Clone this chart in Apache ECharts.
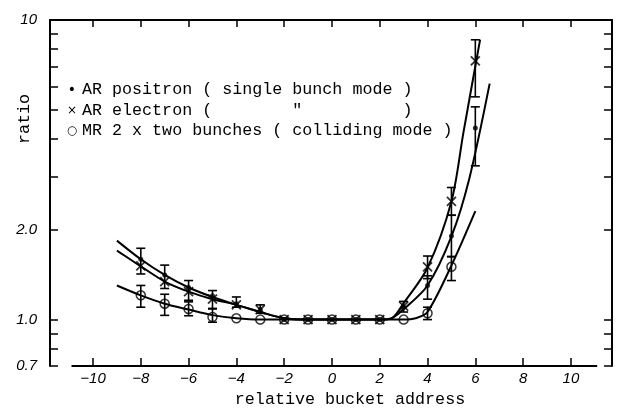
<!DOCTYPE html>
<html><head><meta charset="utf-8">
<script src="https://cdn.jsdelivr.net/npm/echarts@6/dist/echarts.min.js"></script>
<style>html,body{margin:0;padding:0;background:#fff}#c{width:622px;height:408px}</style>
</head><body><div id="c"></div>
<script>
// ---- data ----
const xTickValues = [-10, -8, -6, -4, -2, 0, 2, 4, 6, 8, 10];
const yTickValues = [0.7, 0.8, 0.9, 1, 2, 3, 4, 5, 6, 7, 8, 9, 10];
const yLabelValues = [0.7, 1, 2, 10];

const positronX = [-8, -7, -6, -5, -4, -3, -2, -1, 0, 1, 2, 3, 4, 5, 6];
const positronY = [1.59, 1.41, 1.28, 1.20, 1.13, 1.08, 1.0, 1.0, 1.0, 1.0, 1.0, 1.10, 1.30, 1.90, 4.36];
const electronX = [-8, -7, -6, -5, -4, -3, -2, -1, 0, 1, 2, 3, 4, 5, 6];
const electronY = [1.51, 1.34, 1.24, 1.17, 1.12, 1.08, 1.0, 1.0, 1.0, 1.0, 1.0, 1.11, 1.50, 2.48, 7.3];
const mrX = [-8, -7, -6, -5, -4, -3, -2, -1, 0, 1, 2, 3, 4, 5];
const mrY = [1.205, 1.13, 1.085, 1.02, 1.01, 1.0, 1.0, 1.0, 1.0, 1.0, 1.0, 1.0, 1.05, 1.50];

// error bars: x, low, high
const positronErrX = [-8, -7, -6, -5, -4, -3, 3, 4, 5, 6];
const positronErrLo = [1.42, 1.27, 1.16, 1.09, 1.10, 1.05, 1.06, 1.17, 1.62, 3.26];
const positronErrHi = [1.73, 1.52, 1.35, 1.25, 1.19, 1.12, 1.15, 1.40, 2.23, 5.13];
const electronErrX = [4, 5, 6];
const electronErrLo = [1.37, 2.23, 5.54];
const electronErrHi = [1.63, 2.76, 8.59];
const mrErrX = [-8, -7, -6, -5, 4, 5];
const mrErrLo = [1.10, 1.033, 1.03, 0.98, 1.0, 1.35];
const mrErrHi = [1.30, 1.215, 1.146, 1.085, 1.10, 1.625];

// fitted curves
const positronFitX = [-9, -8, -7, -6, -5, -4, -3, -2, -1, 0, 1, 2, 2.5, 3, 4, 5, 5.75, 6.6];
const positronFitY = [1.835, 1.59, 1.41, 1.28, 1.19, 1.12, 1.06, 1.01, 1.0, 1.0, 1.0, 1.0, 1.01, 1.083, 1.30, 1.895, 2.96, 6.13];
const electronFitX = [-9, -8, -7, -6, -5, -4, -3, -2, -1, 0, 1, 2, 2.5, 3, 4, 5, 5.5, 6.2];
const electronFitY = [1.70, 1.506, 1.34, 1.24, 1.17, 1.12, 1.06, 1.01, 1.0, 1.0, 1.0, 1.0, 1.01, 1.135, 1.49, 2.48, 4.2, 8.6];
const mrFitX = [-9, -8, -7, -6, -5, -4, -3, -2, -1, 0, 1, 2, 3, 3.5, 4, 5, 6];
const mrFitY = [1.30, 1.205, 1.13, 1.08, 1.035, 1.01, 1.0, 1.0, 1.0, 1.0, 1.0, 1.0, 1.0, 1.01, 1.06, 1.515, 2.30];

const xAxisLineFrom = -10.9, xAxisLineTo = 11.1;

const legendLines = [
  ['•', 'AR positron ( single bunch mode )'],
  ['×', 'AR electron (        "          )'],
  ['○', 'MR 2 x two bunches ( colliding mode )']
];

// ---- build ----
const zip = (xs, ys) => xs.map((x, i) => [x, ys[i]]);
const zip3 = (xs, lo, hi) => xs.map((x, i) => [x, lo[i], hi[i]]);
const INK = '#000';
const MONO = '"Liberation Mono", "DejaVu Sans Mono", monospace';
const HAND = '"Liberation Sans", sans-serif';

function errRender(params, api) {
  const x = api.value(0);
  const a = api.coord([x, api.value(1)]);
  const b = api.coord([x, api.value(2)]);
  const h = 4.5;
  const st = { stroke: INK, lineWidth: 1.6 };
  return { type: 'group', children: [
    { type: 'line', shape: { x1: a[0], y1: a[1], x2: b[0], y2: b[1] }, style: st },
    { type: 'line', shape: { x1: a[0] - h, y1: a[1], x2: a[0] + h, y2: a[1] }, style: st },
    { type: 'line', shape: { x1: b[0] - h, y1: b[1], x2: b[0] + h, y2: b[1] }, style: st }
  ]};
}

const fmtX = v => (v < 0 ? '\u2212' + (-v) : String(v));
const fmtY = v => (v === 10 ? '10' : v.toFixed(1));

const chart = echarts.init(document.getElementById('c'), null, { renderer: 'canvas' });
const option = {
  animation: false,
  backgroundColor: '#fff',
  grid: { left: 50, right: 10, top: 20, bottom: 42 },
  xAxis: [
    { type: 'value', min: -11.8, max: 11.72, position: 'bottom',
      axisLine: { show: false, onZero: false },
      axisTick: { show: true, inside: true, length: 8, customValues: xTickValues, lineStyle: { color: INK, width: 1.5 } },
      axisLabel: { customValues: xTickValues, formatter: fmtX, margin: 5, color: INK, fontSize: 15, fontStyle: 'italic', fontFamily: HAND },
      splitLine: { show: false } },
    { type: 'value', min: -11.8, max: 11.72, position: 'top',
      axisLine: { show: true, onZero: false, lineStyle: { color: INK, width: 2 } },
      axisTick: { show: true, inside: true, length: 7, customValues: xTickValues, lineStyle: { color: INK, width: 1.5 } },
      axisLabel: { show: false }, splitLine: { show: false } }
  ],
  yAxis: [
    { type: 'log', logBase: 10, min: 0.7, max: 10, position: 'left',
      axisLine: { show: true, onZero: false, lineStyle: { color: INK, width: 2 } },
      axisTick: { show: true, inside: true, length: 8, customValues: yTickValues, lineStyle: { color: INK, width: 1.5 } },
      axisLabel: { customValues: yLabelValues, formatter: fmtY, margin: 13, color: INK, fontSize: 15, fontStyle: 'italic', fontFamily: HAND },
      splitLine: { show: false } },
    { type: 'log', logBase: 10, min: 0.7, max: 10, position: 'right',
      axisLine: { show: true, onZero: false, lineStyle: { color: INK, width: 2 } },
      axisTick: { show: true, inside: true, length: 8, customValues: yTickValues, lineStyle: { color: INK, width: 1.5 } },
      axisLabel: { show: false }, splitLine: { show: false } }
  ],
  series: [
    { name: 'AR positron fit', type: 'line', smooth: 0.3, showSymbol: false, symbol: 'none',
      data: zip(positronFitX, positronFitY), lineStyle: { color: INK, width: 2 }, z: 2 },
    { name: 'AR electron fit', type: 'line', smooth: 0.3, showSymbol: false, symbol: 'none',
      data: zip(electronFitX, electronFitY), lineStyle: { color: INK, width: 2 }, z: 2 },
    { name: 'MR fit', type: 'line', smooth: 0.3, showSymbol: false, symbol: 'none',
      data: zip(mrFitX, mrFitY), lineStyle: { color: INK, width: 2 }, z: 2 },
    { name: 'positron err', type: 'custom', renderItem: errRender, data: zip3(positronErrX, positronErrLo, positronErrHi), z: 3 },
    { name: 'electron err', type: 'custom', renderItem: errRender, data: zip3(electronErrX, electronErrLo, electronErrHi), z: 3 },
    { name: 'MR err', type: 'custom', renderItem: errRender, data: zip3(mrErrX, mrErrLo, mrErrHi), z: 3 },
    { name: 'AR positron', type: 'scatter', symbol: 'circle', symbolSize: 5,
      itemStyle: { color: INK }, data: zip(positronX, positronY), z: 4 },
    { name: 'AR electron', type: 'scatter', symbol: 'path://M0,0L10,10M10,0L0,10', symbolSize: 9,
      itemStyle: { color: 'none', borderColor: INK, borderWidth: 1.8 }, data: zip(electronX, electronY), z: 4 },
    { name: 'MR 2 x two bunches', type: 'scatter', symbol: 'circle', symbolSize: 9,
      itemStyle: { color: 'rgba(0,0,0,0)', borderColor: INK, borderWidth: 1.5 }, data: zip(mrX, mrY), z: 4 }
  ]
};
chart.setOption(option);

const p1 = chart.convertToPixel({ xAxisIndex: 0, yAxisIndex: 0 }, [xAxisLineFrom, 0.7]);
const p2 = chart.convertToPixel({ xAxisIndex: 0, yAxisIndex: 0 }, [xAxisLineTo, 0.7]);
const legendY = [90, 110.5, 131];
const graphics = [
  { type: 'line', shape: { x1: p1[0], y1: p1[1], x2: p2[0], y2: p2[1] }, style: { stroke: INK, lineWidth: 2 }, z: 10 },
  { type: 'text', x: 350, y: 400, style: { text: 'relative bucket address', font: '16.7px ' + MONO, fill: INK, textAlign: 'center', textVerticalAlign: 'middle' } },
  { type: 'text', x: 25, y: 119, rotation: Math.PI / 2, style: { text: 'ratio', font: '16.7px ' + MONO, fill: INK, textAlign: 'center', textVerticalAlign: 'middle' } }
];
legendLines.forEach((l, i) => {
  graphics.push({ type: 'text', x: 72, y: legendY[i], style: { text: l[0], font: (i === 0 ? '14px ' : '12px ') + '"DejaVu Sans", sans-serif', fill: INK, textAlign: 'center', textVerticalAlign: 'middle' } });
  graphics.push({ type: 'text', x: 82, y: legendY[i], style: { text: l[1], font: '16.7px ' + MONO, fill: INK, textAlign: 'left', textVerticalAlign: 'middle' } });
});
chart.setOption({ graphic: graphics });
</script>
</body></html>
